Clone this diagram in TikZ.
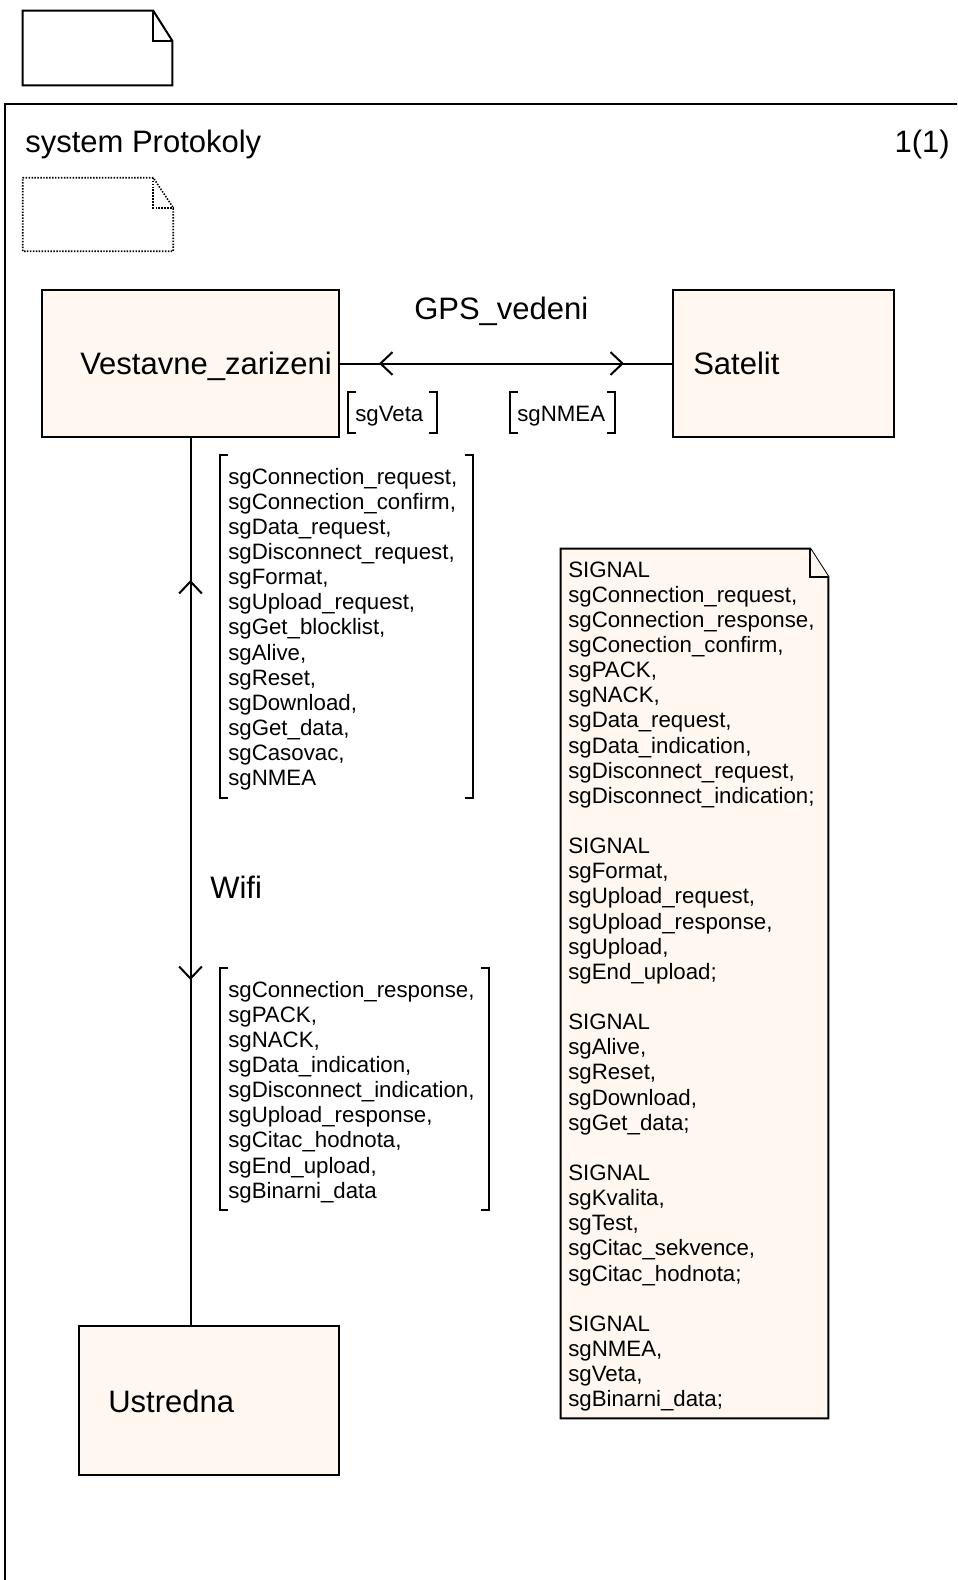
\documentclass[tikz,border=0pt]{standalone}
\usepackage{fontspec}
\setmainfont{Liberation Sans}
\usetikzlibrary{arrows.meta,decorations.markings,calc,fit}
\definecolor{cream}{RGB}{255,247,240}
\newcommand\smallf{\fontsize{16.7pt}{18.86pt}\selectfont}
\newcommand\bigf{\fontsize{23.25pt}{27pt}\selectfont}
% dog-eared note outline around a node: node, fold width, fold height, style
\newcommand\noteshape[4]{%
  \draw[#4] (#1.north west) -- ($(#1.north east)+(-#2,0)$) -- ($(#1.north east)+(0,#3)$)
    -- (#1.south east) -- (#1.south west) -- cycle;
  \draw[#4] ($(#1.north east)+(-#2,0)$) -- ++(0,#3) -- ($(#1.north east)+(0,#3)$);}
% square brackets around a signal list region
\newcommand\sigbrackets[1]{%
  \draw[wire] ($(#1.north west)+(8,0)$) -- (#1.north west) -- (#1.south west) -- ++(8,0);
  \draw[wire] ($(#1.north east)+(-8,0)$) -- (#1.north east) -- (#1.south east) -- ++(-8,0);}
\begin{document}
\begin{tikzpicture}[x=0.75pt,y=-0.75pt,
  wire/.style={line width=1.5pt},
  blockbox/.style={draw, line width=1.5pt, fill=cream, inner sep=0pt},
  region/.style={inner sep=0pt},
  bigtext/.style={font=\bigf, inner sep=0pt, anchor=base west},
  smalltext/.style={font=\smallf, inner sep=0pt, anchor=base west},
  listtext/.style={font=\smallf, inner sep=0pt, anchor=base west, align=left, text width=#1},
  barb/.tip={Straight Barb[length=9pt,width=17pt]}
]
\useasboundingbox (0,0) rectangle (957,1580);
\clip (0,0) rectangle (957,1580);

% page frame
\draw[wire] (5,1600) -- (5,104) -- (980,104);

% notes outside and inside the frame
\node[region, fit={(23,11) (172,85)}] (topnote) {};
\noteshape{topnote}{19}{30}{wire}
\node[region, fit={(23,178) (173,251)}] (textnote) {};
\noteshape{textnote}{20}{30}{line width=1.2pt, dash pattern=on 1.1pt off 1.1pt}

\node[bigtext] (title) at (25,153) {system Protokoly};
\node[bigtext, anchor=base east] (page) at (950,153) {1(1)};

% blocks
\node[blockbox, fit={(42,290) (339,437)}] (vest) {};
\node[blockbox, fit={(673,290) (894,437)}] (sat) {};
\node[blockbox, fit={(79,1326) (339,1475)}] (ustr) {};
\node[bigtext] (vestT) at (80,374) {Vestavne\_zarizeni};
\node[bigtext] (satT) at (693,374) {Satelit};
\node[bigtext] (ustrT) at (108,1412) {Ustredna};

% channel GPS_vedeni
\draw[wire, postaction={decorate}, decoration={markings,
    mark=at position 29.25pt with {\arrowreversed{barb}},
    mark=at position 213pt with {\arrow{barb}}}]
  (vest.east) -- (sat.west);
\node[bigtext] (gps) at (414,319) {GPS\_vedeni};
\node[region, fit={(348,392) (437,433)}] (vetaB) {};
\sigbrackets{vetaB}
\node[smalltext] (veta) at (355,421.5) {sgVeta};
\node[region, fit={(510,392) (615,433)}] (nmeaB) {};
\sigbrackets{nmeaB}
\node[smalltext] (nmea) at (517,421.5) {sgNMEA};

% channel Wifi
\draw[wire, postaction={decorate}, decoration={markings,
    mark=at position 106.5pt with {\arrowreversed{barb}},
    mark=at position 406.5pt with {\arrow{barb}}}]
  (vest.south) -- (vest.south |- ustr.north);
\node[bigtext] (wifi) at (210,898) {Wifi};

\node[region, fit={(220,455) (473,798)}] (upB) {};
\sigbrackets{upB}
\node[listtext=180pt] (upL) at (228,484) {sgConnection\_request,\\
sgConnection\_confirm,\\
sgData\_request,\\
sgDisconnect\_request,\\
sgFormat,\\
sgUpload\_request,\\
sgGet\_blocklist,\\
sgAlive,\\
sgReset,\\
sgDownload,\\
sgGet\_data,\\
sgCasovac,\\
sgNMEA};

\node[region, fit={(220,968) (489,1210)}] (downB) {};
\sigbrackets{downB}
\node[listtext=195pt] (downL) at (228,997) {sgConnection\_response,\\
sgPACK,\\
sgNACK,\\
sgData\_indication,\\
sgDisconnect\_indication,\\
sgUpload\_response,\\
sgCitac\_hodnota,\\
sgEnd\_upload,\\
sgBinarni\_data};

% signal declarations
\node[region, fit={(561,549) (828,1418)}] (decl) {};
\noteshape{decl}{18}{28}{wire, fill=cream}
\node[listtext=195pt] (declT) at (568,577) {SIGNAL\\
sgConnection\_request,\\
sgConnection\_response,\\
sgConection\_confirm,\\
sgPACK,\\
sgNACK,\\
sgData\_request,\\
sgData\_indication,\\
sgDisconnect\_request,\\
sgDisconnect\_indication;\\[18.86pt]
SIGNAL\\
sgFormat,\\
sgUpload\_request,\\
sgUpload\_response,\\
sgUpload,\\
sgEnd\_upload;\\[18.86pt]
SIGNAL\\
sgAlive,\\
sgReset,\\
sgDownload,\\
sgGet\_data;\\[18.86pt]
SIGNAL\\
sgKvalita,\\
sgTest,\\
sgCitac\_sekvence,\\
sgCitac\_hodnota;\\[18.86pt]
SIGNAL\\
sgNMEA,\\
sgVeta,\\
sgBinarni\_data;};
\end{tikzpicture}
\end{document}
